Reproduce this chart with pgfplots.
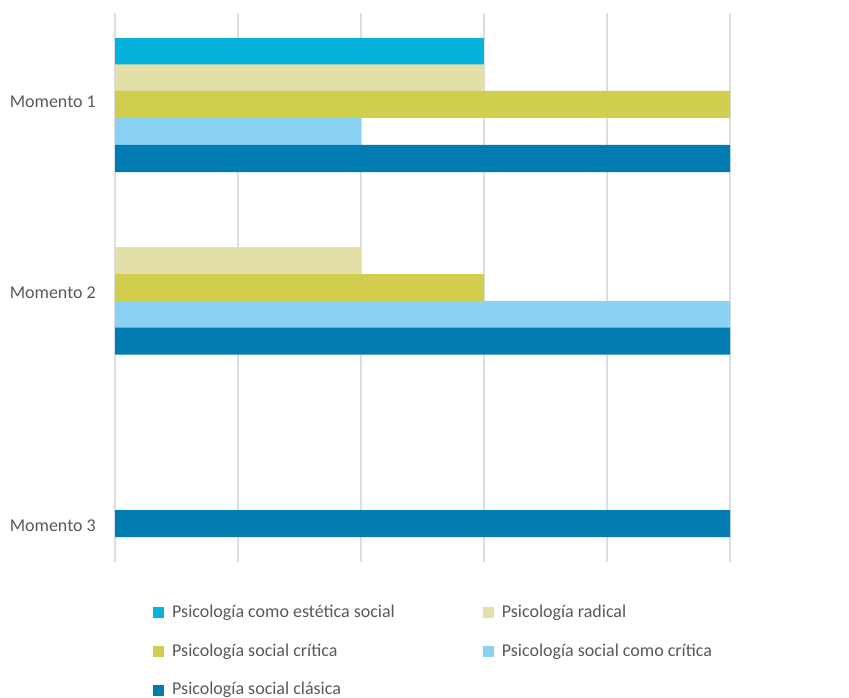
\documentclass[border=0pt]{standalone}
\usepackage{pgfplots}
\pgfplotsset{compat=1.18}
\usepackage{fontspec}
\setmainfont{Carlito}
\definecolor{cEst}{HTML}{06B1DB}
\definecolor{cRad}{HTML}{E2E0A6}
\definecolor{cCri}{HTML}{D1CE4D}
\definecolor{cCom}{HTML}{8AD1F3}
\definecolor{cCla}{HTML}{007CB2}
\definecolor{gridc}{HTML}{DCDCE4}
\definecolor{labelc}{HTML}{595959}
\begin{document}
\fontsize{18}{22}\selectfont
\begin{tikzpicture}[x=1pt,y=1pt]
\path[use as bounding box] (0,0) rectangle (849,698);
\begin{axis}[
  at={(115pt,136pt)}, anchor=south west,
  scale only axis, width=615pt, height=549pt,
  xmin=0, xmax=5, ymin=13, ymax=562, y dir=reverse,
  axis line style={draw=none},
  major tick length=0pt,
  xtick={0,1,2,3,4,5}, xticklabels={},
  xmajorgrids, ymajorgrids=false,
  grid style={color=gridc, line width=1.5pt},
  ytick={101.5,293,526},
  yticklabels={Momento 1,Momento 2,Momento 3},
  yticklabel style={font=\fontsize{18}{22}\selectfont, text=labelc, inner sep=0pt, xshift=-19pt},
  xbar, bar width=27, bar shift=0pt,
  every axis plot/.append style={draw=none},
  legend columns=2,
  legend cell align=left,
  legend image code/.code={\fill[#1] (0pt,-5.5pt) rectangle (11pt,5.5pt);},
  legend style={draw=none, fill=none, inner sep=0pt,
    at={(axis description cs:0.0618,-0.078)}, anchor=north west,
    font=\fontsize{18}{22}\selectfont, text=labelc,
    nodes={inner sep=0pt},
    row sep=23.5pt,
    /tikz/every odd column/.append style={column sep=8pt},
    /tikz/every even column/.append style={column sep=88pt}},
]
% Psicologia como estetica social
\addplot[fill=cEst] coordinates {(3,51.5)};
\addlegendentry{Psicología como estética social}
% Psicologia radical
\addplot[fill=cRad] coordinates {(3,78) (2,260.5)};
\addlegendentry{Psicología radical}
% Psicologia social critica
\addplot[fill=cCri] coordinates {(5,104.5) (3,287.5)};
\addlegendentry{Psicología social crítica}
% Psicologia social como critica
\addplot[fill=cCom] coordinates {(2,131.5) (5,314.5)};
\addlegendentry{Psicología social como crítica}
% Psicologia social clasica
\addplot[fill=cCla] coordinates {(5,158.5) (5,341) (5,523.5)};
\addlegendentry{Psicología social clásica}
\end{axis}
\end{tikzpicture}
\end{document}
